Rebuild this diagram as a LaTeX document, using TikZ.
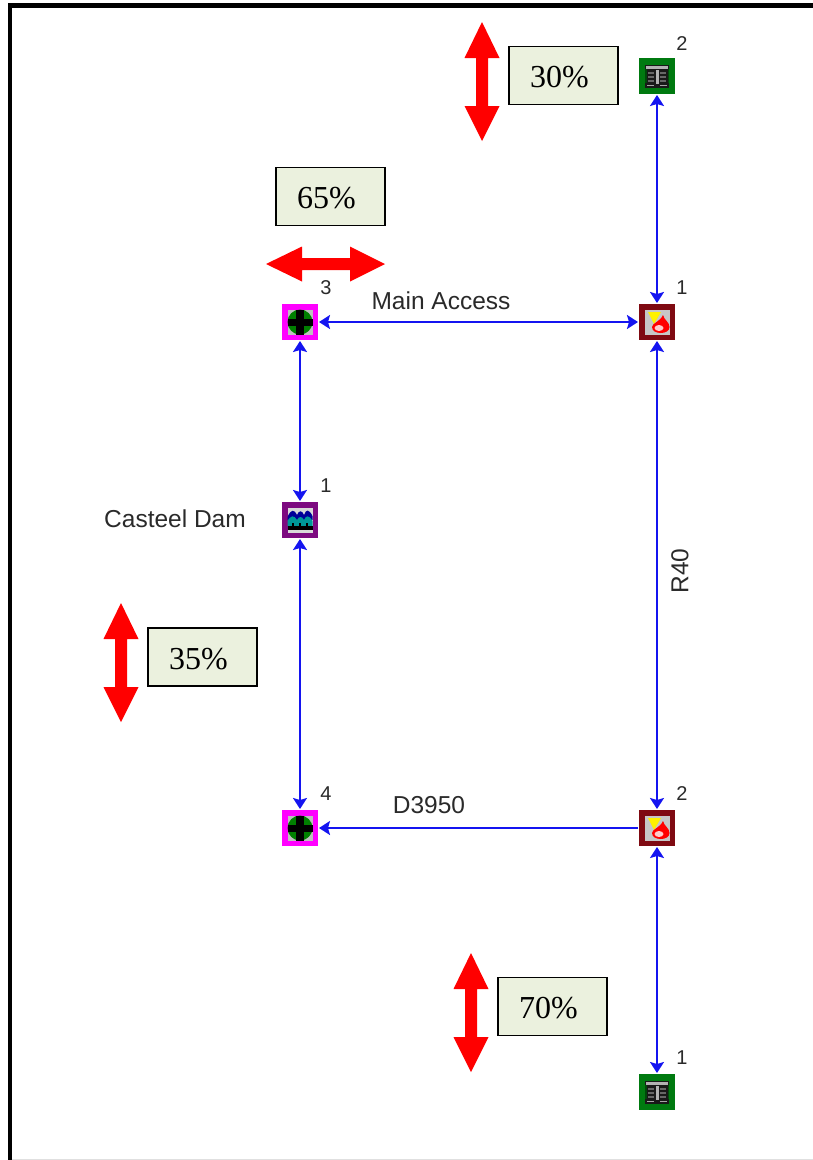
\documentclass[tikz,border=0pt]{standalone}
\usepackage{fontspec}
\setmainfont{Liberation Sans}
\newfontfamily\serifpct{Liberation Serif}
\usetikzlibrary{arrows.meta}

\definecolor{pctfill}{HTML}{EBF1DE}
\definecolor{gatecol}{HTML}{007A10}
\definecolor{valvecol}{HTML}{7F0A12}
\definecolor{plantcol}{HTML}{FF00FF}
\definecolor{damcol}{HTML}{7D0A80}
\definecolor{labelcol}{HTML}{2A2A2A}

\tikzset{
  link/.style={draw={rgb,255:red,20;green,20;blue,240}, line width=1.8pt,
    {Stealth[length=11pt,width=14pt,inset=2pt]}-{Stealth[length=11pt,width=14pt,inset=2pt]}},
  linkone/.style={draw={rgb,255:red,20;green,20;blue,240}, line width=1.8pt,
    -{Stealth[length=11pt,width=14pt,inset=2pt]}},
  iconbox/.style={minimum size=36pt, inner sep=0pt, outer sep=1pt},
  gate/.style={iconbox, fill=gatecol, path picture={
    \begin{scope}[shift={(path picture bounding box.center)}]
      \fill[black!90] (-12,-11) rectangle (12,12);
      \fill[black!30] (-11,-10) rectangle (11,-7.5);
      \fill[black!60] (-9,-4) rectangle (-3,-2.5);
      \fill[black!60] (-9,0) rectangle (-3,1.5);
      \fill[black!60] (-9,4) rectangle (-3,5.5);
      \fill[black!60] (3,-4) rectangle (9,-2.5);
      \fill[black!60] (3,0) rectangle (9,1.5);
      \fill[black!60] (3,4) rectangle (9,5.5);
      \fill[black!30] (-1.5,-6) rectangle (1.5,8);
      \fill[black!35] (-10,8.5) rectangle (-3,10);
      \fill[black!35] (3,8.5) rectangle (10,10);
      \fill[gatecol!60!black] (-12,-7) rectangle (-10.5,7);
      \fill[gatecol!60!black] (10.5,-7) rectangle (12,7);
    \end{scope}}},
  valve/.style={iconbox, fill=valvecol, path picture={
    \begin{scope}[shift={(path picture bounding box.center)}]
      \fill[black!22] (-12.5,-12.5) rectangle (12.5,12.5);
      \fill[yellow] (-9,-10) -- (4,-10) -- (-3,2) -- cycle;
      \fill[red] (6,-7) .. controls (7,-2) and (12.5,0) .. (12.5,5)
        .. controls (12.5,13) and (-5,13) .. (-5,5)
        .. controls (-5,1) and (3,0) .. (6,-7);
      \fill[white!80!red] (2,6) ellipse (4.5 and 3);
    \end{scope}}},
  plant/.style={iconbox, fill=plantcol, path picture={
    \begin{scope}[shift={(path picture bounding box.center)}]
      \fill[black!25] (-12.5,-12.5) rectangle (12.5,12.5);
      \fill[green!50!black] (0,0) circle (12.5);
      \fill[black] (-4,-12.5) rectangle (4,12.5);
      \fill[black] (-12.5,-3.5) rectangle (12.5,3.5);
    \end{scope}}},
  dam/.style={iconbox, fill=damcol, path picture={
    \begin{scope}[shift={(path picture bounding box.center)}]
      \fill[black!15] (-12.5,-12.5) rectangle (12.5,12.5);
      \fill[blue!60!black] (-12.5,0) -- (-12.5,-3) .. controls (-9,-11) and (-6,-11) .. (-3,-5)
        .. controls (-1,-10) and (2,-10) .. (4,-5)
        .. controls (6,-11) and (9,-11) .. (12.5,-4) -- (12.5,0) -- cycle;
      \fill[teal!80!cyan] (-12.5,1) .. controls (-9,-5) and (-6,-5) .. (-3,0)
        .. controls (-1,-4) and (2,-4) .. (4,0)
        .. controls (6,-5) and (9,-5) .. (12.5,1) -- (12.5,6) -- (-12.5,6) -- cycle;
      \fill[black] (-12.5,6) rectangle (12.5,10);
      \fill[black] (-8,3) rectangle (-6,6);
      \fill[black] (6,3) rectangle (8,6);
      \fill[black] (-1,3) rectangle (1,6);
    \end{scope}}},
  pct/.style={draw=black, line width=1.7pt, fill=pctfill, minimum height=58pt,
    text width=67pt, inner xsep=21pt, inner ysep=0pt, align=left,
    text height=24pt, text depth=0pt,
    font=\serifpct\fontsize{32}{36}\selectfont},
  roadlab/.style={text=labelcol, inner sep=0pt, font=\fontsize{24.5}{28}\selectfont},
  numlab/.style={text=labelcol, inner sep=0pt, font=\fontsize{20}{22}\selectfont},
  updown/.pic={
    \fill[red] (0,-60) -- (17.5,-24) -- (6,-24) -- (6,24) -- (17.5,24) -- (0,59)
      -- (-17.5,24) -- (-6,24) -- (-6,-24) -- (-17.5,-24) -- cycle;
  },
}

\begin{document}
\begin{tikzpicture}[x=1pt,y=-1pt]

\useasboundingbox (0,0) rectangle (813,1160);

% frame
\draw[black!12, line width=1pt] (12,1159) -- (813,1159);
\draw[line width=4.4pt] (10,1160) -- (10,5.5) -- (813,5.5);

% icons
\node[gate]  (gateN)  at (657,76) {};
\node[valve] (valveN) at (657,322) {};
\node[plant] (plantN) at (300,322) {};
\node[dam]   (casteel) at (300,520) {};
\node[plant] (plantS) at (300,828) {};
\node[valve] (valveS) at (657,828) {};
\node[gate]  (gateS)  at (657,1092) {};

% links
\draw[link] (gateN) -- (valveN);
\draw[link] (plantN) -- (valveN);
\draw[link] (plantN) -- (casteel);
\draw[link] (casteel) -- (plantS);
\draw[link] (valveN) -- (valveS);
\draw[linkone] (valveS) -- (plantS);
\draw[link] (valveS) -- (gateS);

% numbers
\node[numlab] (numA) at (682,44) {2};
\node[numlab] (numB) at (682,288) {1};
\node[numlab] (numC) at (326,288) {3};
\node[numlab] (numD) at (326,486) {1};
\node[numlab] (numE) at (326,794) {4};
\node[numlab] (numF) at (682,794) {2};
\node[numlab] (numG) at (682,1058) {1};

% road and dam names
\node[roadlab] (mainacc) at (441,301) {Main Access};
\node[roadlab] (dname) at (429,805) {D3950};
\node[roadlab] (damname) at (175,519) {Casteel Dam};
\node[roadlab, rotate=90] (rname) at (680,571) {R40};

% percentages
\node[pct] (pctA) at (563.5,75.5) {30\%};
\node[pct] (pctB) at (330.5,196.5) {65\%};
\node[pct] (pctC) at (202.5,657) {35\%};
\node[pct] (pctD) at (552.5,1006.5) {70\%};

\pic at (482,82) {updown};
\pic at (121,663) {updown};
\pic at (471,1013) {updown};
\pic[rotate=90] at (326,264) {updown};

\end{tikzpicture}
\end{document}
